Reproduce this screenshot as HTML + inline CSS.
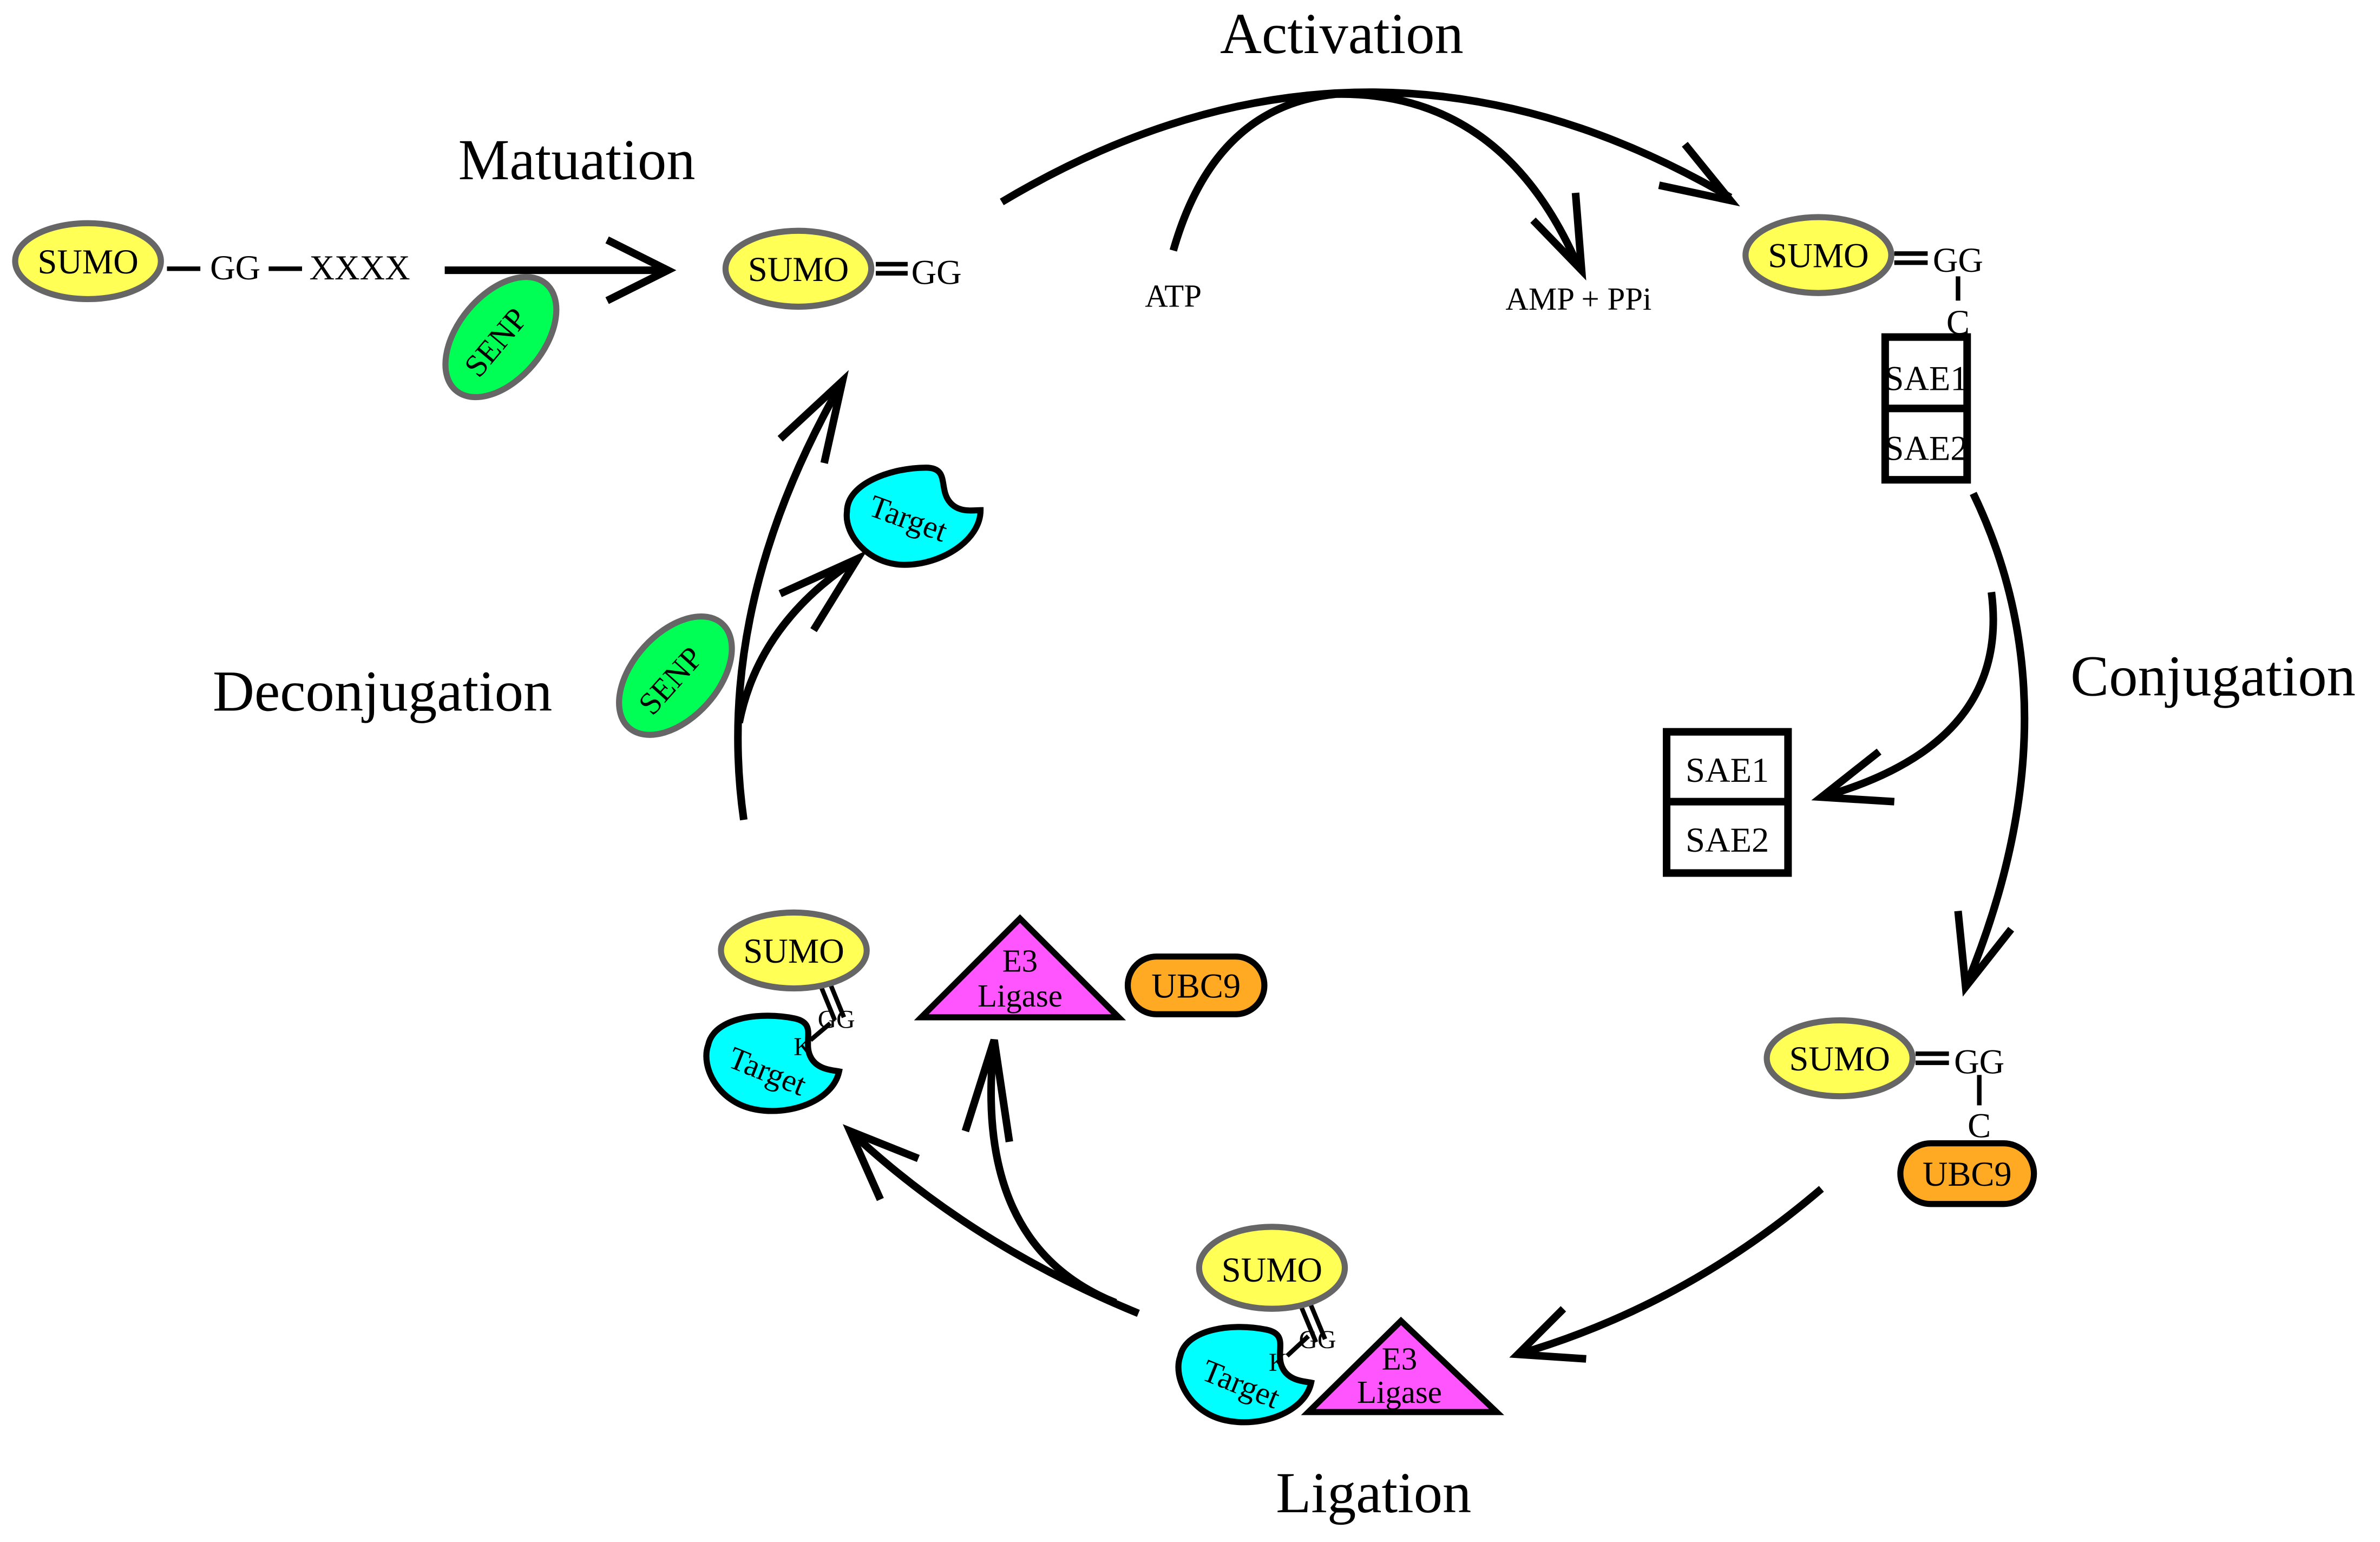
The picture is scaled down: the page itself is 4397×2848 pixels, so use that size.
<!DOCTYPE html>
<html><head><meta charset="utf-8"><style>html,body{margin:0;padding:0;background:#fff}svg{display:block}</style></head>
<body>
<svg width="4397" height="2848" viewBox="0 0 1568 1015.6" preserveAspectRatio="none" xmlns="http://www.w3.org/2000/svg" font-family="Liberation Serif, serif" text-anchor="middle">
<defs>
<path id="tg" d="M -42,-3 C -42,-22 -12,-32 10,-32 C 26,-32 18,-18 26,-9 C 32,-2 42,-4 46,-4 C 46,16 20,32 -4,32 C -28,32 -44,12 -42,-3 Z"/>
</defs>
<g fill="none" stroke="#000" stroke-width="5">
<line x1="293" y1="178" x2="438" y2="178"/>
<polyline points="400,158 440,178 400,198"/>
<path d="M 660,133 Q 900,-10 1140,130"/>
<polyline points="1093,122 1140,132 1110,95"/>
<path d="M 773,165 Q 800,70 880,62 Q 990,60 1040,176"/>
<polyline points="1010,145 1042,178 1038,127"/>
<path d="M 1300,325 Q 1370,470 1295,650"/>
<polyline points="1290,600 1295,650 1325,612"/>
<path d="M 1312,390 Q 1325,490 1200,525"/>
<polyline points="1238,495 1200,525 1248,528"/>
<path d="M 1200,783 Q 1110,860 1000,892"/>
<polyline points="1030,862 1000,892 1045,895"/>
<path d="M 750,865 Q 640,820 560,745"/>
<polyline points="580,790 560,745 605,763"/>
<path d="M 735,858 Q 640,820 655,685"/>
<polyline points="636,745 655,685 665,752"/>
<path d="M 490,540 Q 470,400 554,253"/>
<polyline points="514,289 555,251 543,305"/>
<path d="M 487,476 Q 500,410 565,368"/>
<polyline points="514,391 565,368 536,415"/>
</g>
<g stroke="#000" stroke-width="3">
<line x1="110" y1="177" x2="132" y2="177"/><line x1="177" y1="177" x2="199" y2="177"/>
<line x1="577" y1="174" x2="598" y2="174"/><line x1="577" y1="180" x2="598" y2="180"/>
<line x1="1248" y1="167" x2="1270" y2="167"/><line x1="1248" y1="173" x2="1270" y2="173"/>
<line x1="1290" y1="182" x2="1290" y2="198"/>
<line x1="1262" y1="694" x2="1284" y2="694"/><line x1="1262" y1="700" x2="1284" y2="700"/>
<line x1="1304" y1="708" x2="1304" y2="728"/>
<line x1="857" y1="860" x2="867" y2="884"/><line x1="863" y1="858" x2="873" y2="882"/>
<line x1="848" y1="893" x2="862" y2="880"/>
<line x1="541" y1="650" x2="550" y2="672"/><line x1="547" y1="648" x2="556" y2="670"/>
<line x1="534" y1="685" x2="547" y2="674"/>
</g>
<g fill="#fff" stroke="#000" stroke-width="5">
<rect x="1242" y="222" width="54" height="94"/><line x1="1242" y1="269" x2="1296" y2="269"/>
<rect x="1098" y="482" width="80" height="93"/><line x1="1098" y1="528" x2="1178" y2="528"/>
</g>
<g fill="#ffff55" stroke="#666" stroke-width="4">
<ellipse cx="58" cy="172" rx="48" ry="25"/>
<ellipse cx="526" cy="177" rx="48" ry="25"/>
<ellipse cx="1198" cy="168" rx="48" ry="25"/>
<ellipse cx="1212" cy="697" rx="48" ry="25"/>
<ellipse cx="838" cy="835" rx="48" ry="27"/>
<ellipse cx="523" cy="626" rx="48" ry="25"/>
</g>
<g fill="#00ff55" stroke="#666" stroke-width="4">
<ellipse cx="0" cy="0" rx="28" ry="46" transform="translate(330,222) rotate(40)"/>
<ellipse cx="0" cy="0" rx="28" ry="46" transform="translate(445,445) rotate(42)"/>
</g>
<g fill="#00ffff" stroke="#000" stroke-width="4">
<use href="#tg" transform="translate(600,340)"/>
<use href="#tg" transform="translate(507,700) rotate(12)"/>
<use href="#tg" transform="translate(818,905) rotate(12)"/>
</g>
<g fill="#ff55ff" stroke="#000" stroke-width="4">
<polygon points="607,670 672,605 737,670"/>
<polygon points="862,930 923,870 986,930"/>
</g>
<g fill="#ffaa22" stroke="#000" stroke-width="4">
<rect x="743" y="630" width="90" height="38" rx="19"/>
<rect x="1252" y="753" width="88" height="40" rx="20"/>
</g>
<g font-size="23">
<text x="58" y="180">SUMO</text>
<text x="155" y="184">GG</text>
<text x="237" y="184">XXXX</text>
<text x="526" y="185">SUMO</text>
<text x="617" y="187">GG</text>
<text x="1198" y="176">SUMO</text>
<text x="1290" y="179">GG</text>
<text x="1290" y="220">C</text>
<text x="1269" y="257">SAE1</text>
<text x="1269" y="303">SAE2</text>
<text x="1138" y="515">SAE1</text>
<text x="1138" y="561">SAE2</text>
<text x="1212" y="705">SUMO</text>
<text x="1304" y="707">GG</text>
<text x="1304" y="749">C</text>
<text x="1296" y="781">UBC9</text>
<text x="788" y="657">UBC9</text>
<text x="838" y="844">SUMO</text>
<text x="523" y="634">SUMO</text>
<text x="672" y="640" font-size="21">E3</text>
<text x="672" y="663" font-size="21">Ligase</text>
<text x="922" y="902" font-size="21">E3</text>
<text x="922" y="924" font-size="21">Ligase</text>
</g>
<g font-size="17">
<text x="868" y="888">GG</text><text x="842" y="903">K</text>
<text x="551" y="677">GG</text><text x="529" y="695">K</text>
</g>
<g font-size="21">
<text x="773" y="202">ATP</text>
<text x="1040" y="204">AMP + PPi</text>
<text transform="translate(596,348) rotate(20)">Target</text>
<text transform="translate(503,712) rotate(22)">Target</text>
<text transform="translate(815,918) rotate(22)">Target</text>
<text transform="translate(332,230) rotate(-50)">SENP</text>
<text transform="translate(447,453) rotate(-48)">SENP</text>
</g>
<g font-size="38">
<text x="380" y="118">Matuation</text>
<text x="884" y="35">Activation</text>
<text x="1458" y="458">Conjugation</text>
<text x="905" y="996">Ligation</text>
<text x="252" y="468">Deconjugation</text>
</g>
</svg>
</body></html>
